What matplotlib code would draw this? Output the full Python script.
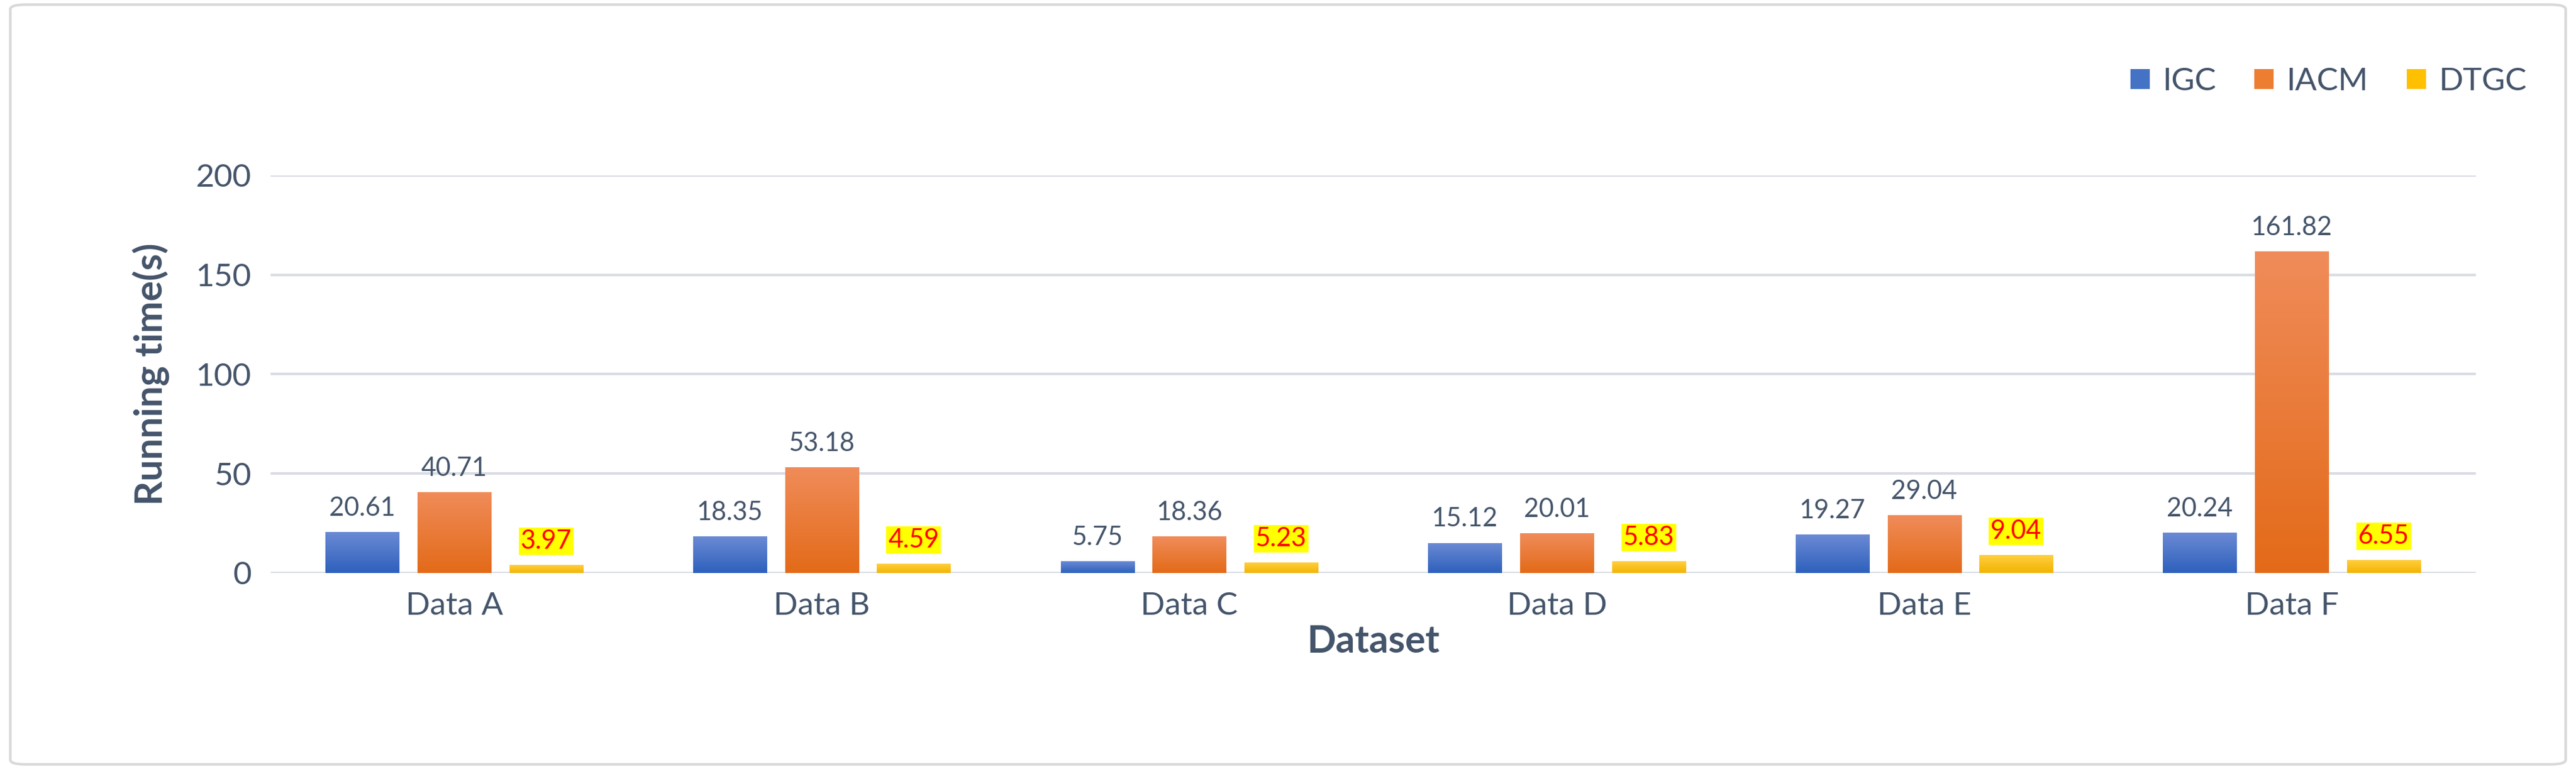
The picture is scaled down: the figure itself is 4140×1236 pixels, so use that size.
import matplotlib.pyplot as plt
import numpy as np
from matplotlib.patches import FancyBboxPatch
from matplotlib.colors import LinearSegmentedColormap

plt.rcParams['font.family'] = ['Lato', 'DejaVu Sans']

datasets = ["Data A", "Data B", "Data C", "Data D", "Data E", "Data F"]
igc = [20.61, 18.35, 5.75, 15.12, 19.27, 20.24]
iacm = [40.71, 53.18, 18.36, 20.01, 29.04, 161.82]
dtgc = [3.97, 4.59, 5.23, 5.83, 9.04, 6.55]

series = [
    ("IGC", igc, "#6b8ad4", "#2d60bc", "#4472c4"),
    ("IACM", iacm, "#f08c5a", "#e36a18", "#ed7d31"),
    ("DTGC", dtgc, "#ffcf40", "#f2b400", "#ffc000"),
]
txt = "#44546a"

fig = plt.figure(figsize=(41.4, 12.36), dpi=100)
frame = FancyBboxPatch((0.004, 0.006), 0.992, 0.988, boxstyle="round,pad=0,rounding_size=0.006",
                       transform=fig.transFigure, fc="none", ec="#d9d9d9", lw=3, zorder=-5)
fig.patches.append(frame)
ax = fig.add_axes([0.105, 0.255, 0.856, 0.517])
ax.patch.set_alpha(0)

x = np.arange(len(datasets))
w = 0.2
grad = np.linspace(1, 0, 256).reshape(-1, 1)
for i, (name, vals, top, bot, solid) in enumerate(series):
    cmap = LinearSegmentedColormap.from_list(name, [bot, top])
    bars = ax.bar(x + (i - 1) * 0.25, vals, w, color=solid, label=name, zorder=2)
    for b, v in zip(bars, vals):
        x0 = b.get_x()
        im = ax.imshow(grad, extent=[x0, x0 + w, 0, v], aspect="auto", cmap=cmap, zorder=3)
        im.set_clip_path(b)
        if name == "DTGC":
            ax.text(x0 + w / 2, v + 6, f"{v:.2f}", ha="center", va="bottom", fontsize=30,
                    color="red", bbox=dict(fc="yellow", ec="none", pad=2), zorder=4)
        else:
            ax.text(x0 + w / 2, v + 6, f"{v:.2f}", ha="center", va="bottom", fontsize=30,
                    color=txt, zorder=4)

ax.set_xlim(-0.5, 5.5)
ax.set_ylim(0, 200)
ax.set_yticks([0, 50, 100, 150, 200])
ax.set_xticks(x)
ax.set_xticklabels(datasets)
ax.tick_params(axis="both", length=0, labelsize=37, colors=txt, pad=22)
ax.yaxis.grid(True, color="#d9dce3", lw=3, zorder=0)
for s in ax.spines.values():
    s.set_visible(False)
ax.set_ylabel("Running time(s)", fontsize=44, fontweight="bold", color=txt, labelpad=30)
ax.set_xlabel("Dataset", fontsize=44, fontweight="bold", color=txt, labelpad=4)
ax.set_axisbelow(True)

leg = fig.legend(loc="upper right", bbox_to_anchor=(0.992, 0.95), ncol=3, frameon=False,
                 fontsize=37, handlelength=0.6, handleheight=0.6, columnspacing=1.2, handletextpad=0.4)
for t in leg.get_texts():
    t.set_color(txt)

fig.savefig("out.png", dpi=100)
